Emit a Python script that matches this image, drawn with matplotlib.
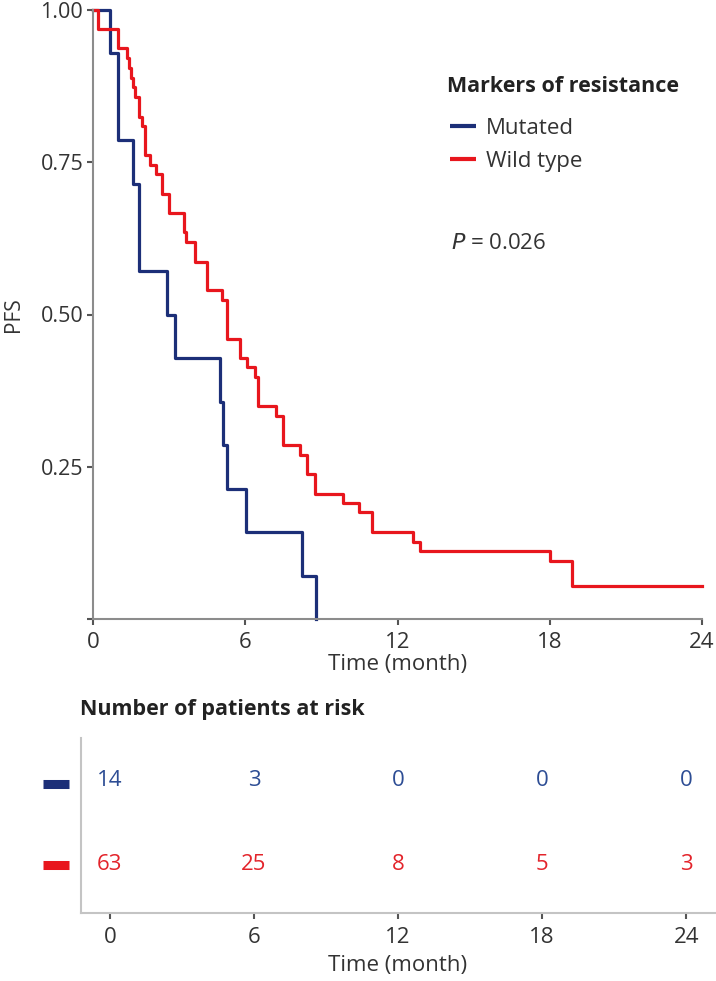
import matplotlib
matplotlib.use("Agg")
import matplotlib.pyplot as plt
from matplotlib.lines import Line2D

plt.rcParams['font.family'] = ['Open Sans', 'DejaVu Sans']

# Kaplan-Meier steps
mut_time = [0, 0.67, 0.99, 1.56, 1.83, 2.9, 3.23, 5.0, 5.11, 5.27, 6.02, 8.25, 8.78]
mut_pfs  = [1.0, 0.929, 0.786, 0.714, 0.571, 0.5, 0.429, 0.357, 0.286, 0.214, 0.143, 0.071, 0.0]

wt_time = [0, 0.2, 0.97, 1.35, 1.42, 1.5, 1.58, 1.65, 1.8, 1.95, 2.05, 2.25, 2.5, 2.7,
           3.0, 3.6, 3.68, 4.0, 4.5, 5.1, 5.27, 5.8, 6.05, 6.4, 6.5, 7.2, 7.5, 8.15,
           8.45, 8.75, 9.86, 10.5, 11.0, 12.62, 12.9, 18.0, 18.87, 24]
wt_pfs  = [1.0, 0.968, 0.937, 0.921, 0.905, 0.889, 0.873, 0.857, 0.825, 0.81, 0.762,
           0.746, 0.73, 0.698, 0.667, 0.635, 0.619, 0.587, 0.54, 0.524, 0.46, 0.429,
           0.413, 0.397, 0.349, 0.333, 0.286, 0.27, 0.238, 0.206, 0.19, 0.175, 0.143,
           0.127, 0.111, 0.095, 0.055, 0.055]

risk_times = [0, 6, 12, 18, 24]
risk_mut   = [14, 3, 0, 0, 0]
risk_wt    = [63, 25, 8, 5, 3]

BLUE = "#1c2f78"
RED = "#e8161d"
BLUE_TXT = "#2d4d94"
RED_TXT = "#e3242b"
TXT = "#333333"

fig = plt.figure(figsize=(7.16, 9.81), dpi=100)

# ---- survival curves
ax = fig.add_axes([93/716, 1-619/981, 609/716, 609/981])
ax.step(mut_time, mut_pfs, where="post", color=BLUE, lw=2.3, clip_on=False, label="Mutated")
ax.step(wt_time, wt_pfs, where="post", color=RED, lw=2.3, clip_on=False, label="Wild type")
ax.set_xlim(0, 24)
ax.set_ylim(0, 1.0)
ax.set_xticks([0, 6, 12, 18, 24])
ax.set_yticks([0, 0.25, 0.5, 0.75, 1.0])
ax.set_yticklabels(["", "0.25", "0.50", "0.75", "1.00"])
for s in ["top", "right"]:
    ax.spines[s].set_visible(False)
for s in ["left", "bottom"]:
    ax.spines[s].set_color("#8c8c8c")
    ax.spines[s].set_linewidth(1.5)
ax.tick_params(colors="#555555", labelcolor=TXT, length=4, width=1.5)
ax.tick_params(axis="y", labelsize=15.5, pad=3)
ax.tick_params(axis="x", labelsize=16, pad=5)
ax.set_xlabel("Time (month)", fontsize=16, color=TXT, labelpad=1)
ax.set_ylabel("PFS", fontsize=15, color=TXT, labelpad=12)

leg = ax.legend(loc="upper left", bbox_to_anchor=(450/716, 1-118/981),
                bbox_transform=fig.transFigure, frameon=False, fontsize=16,
                handlelength=1.15, handletextpad=0.45, borderpad=0,
                borderaxespad=0, labelspacing=0.52)
for t in leg.get_texts():
    t.set_color(TXT)
for h in leg.get_lines():
    h.set_linewidth(3)
    h.set_solid_capstyle("butt")
fig.text(447/716, 1-87/981, "Markers of resistance", fontsize=15.5,
         fontweight="bold", color="#222222", va="center")

fig.text(451/716, 1-243/981, "$P$ = 0.026", fontsize=16, color=TXT, va="center")

# ---- number at risk table
fig.text(80/716, 1-710/981, "Number of patients at risk", fontsize=15.5,
         fontweight="bold", color="#222222", va="center")

at = fig.add_axes([81/716, 1-913/981, 634/716, 175/981])
at.set_xlim(-1.2, 25.2)
at.set_ylim(0, 1)
for x, n in zip(risk_times, risk_mut):
    at.text(x, 0.755, str(n), color=BLUE_TXT, fontsize=16, ha="center", va="center")
for x, n in zip(risk_times, risk_wt):
    at.text(x, 0.28, str(n), color=RED_TXT, fontsize=16, ha="center", va="center")
at.add_line(Line2D([-2.8, -1.7], [0.735, 0.735], color=BLUE, lw=6.5,
                   solid_capstyle="butt", clip_on=False))
at.add_line(Line2D([-2.8, -1.7], [0.275, 0.275], color=RED, lw=6.5,
                   solid_capstyle="butt", clip_on=False))
at.set_xticks(risk_times)
at.set_yticks([])
for s in ["top", "right"]:
    at.spines[s].set_visible(False)
for s in ["left", "bottom"]:
    at.spines[s].set_color("#c4c4c4")
    at.spines[s].set_linewidth(1.5)
at.tick_params(axis="x", colors="#555555", labelcolor=TXT, labelsize=16, length=4,
               width=1.5, pad=6)
at.set_xlabel("Time (month)", fontsize=16, color=TXT, labelpad=5)

fig.savefig("out.png", dpi=100)
